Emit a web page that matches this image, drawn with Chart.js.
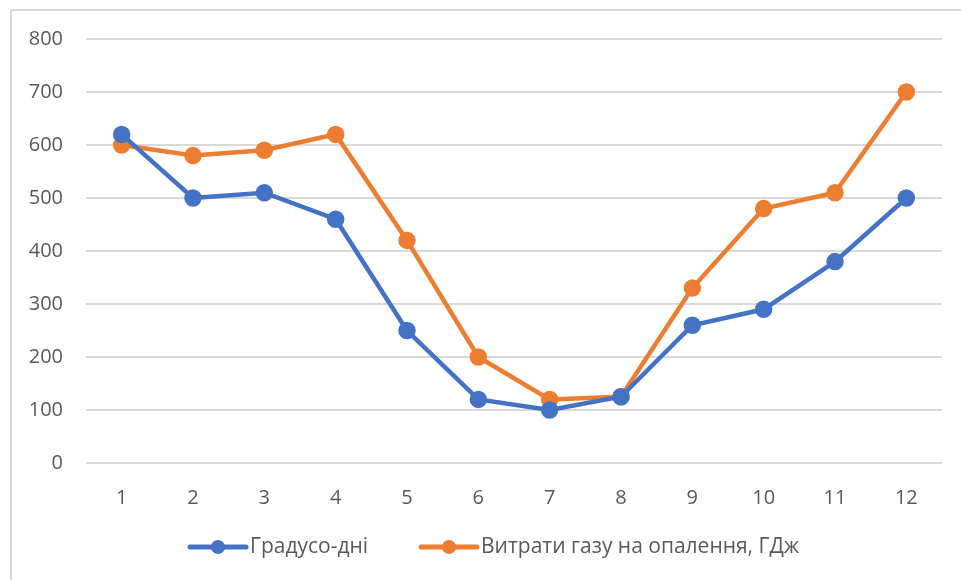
<!DOCTYPE html>
<html><head><meta charset="utf-8">
<script src="https://cdn.jsdelivr.net/npm/chart.js@4"></script>
<style>html,body{margin:0;padding:0;background:#fff;}#wrap{position:relative;width:961px;height:580px;}</style>
</head><body><div id="wrap"><canvas id="c" width="961" height="580"></canvas></div>
<script>
const categories = ['1','2','3','4','5','6','7','8','9','10','11','12'];
const degreeDays = [620,500,510,460,250,120,100,125,260,290,380,500];
const gasUse = [600,580,590,620,420,200,120,125,330,480,510,700];
const seriesNames = ['Градусо-дні','Витрати газу на опалення, ГДж'];
const yTicks = {min:0,max:800,step:100};
const BLUE='#4472C4', ORANGE='#ED7D31', TXT='#595959', GRID='#D9D9D9';
const FONT='"Open Sans", sans-serif';

const framePlugin = {
  id:'frame',
  beforeDraw(chart){
    const ctx=chart.ctx; ctx.save();
    ctx.strokeStyle=GRID; ctx.lineWidth=2;
    ctx.beginPath(); ctx.moveTo(11,580); ctx.lineTo(11,10); ctx.lineTo(961,10); ctx.stroke();
    ctx.restore();
  },
  afterDraw(chart){
    const ctx=chart.ctx; ctx.save();
    const y=547;
    const items=[{x:190,c:BLUE,t:seriesNames[0]},{x:421,c:ORANGE,t:seriesNames[1]}];
    ctx.font='21px '+FONT; ctx.textBaseline='middle';
    items.forEach(it=>{
      ctx.strokeStyle=it.c; ctx.lineWidth=5; ctx.lineCap='round';
      ctx.beginPath(); ctx.moveTo(it.x,y); ctx.lineTo(it.x+56,y); ctx.stroke();
      ctx.fillStyle=it.c; ctx.beginPath(); ctx.arc(it.x+28,y,7,0,Math.PI*2); ctx.fill();
      ctx.fillStyle=TXT; ctx.textAlign='left'; ctx.fillText(it.t,it.x+60,y);
    });
    ctx.restore();
  }
};

new Chart(document.getElementById('c'),{
  type:'line',
  data:{labels:categories,datasets:[
    {label:seriesNames[0],data:degreeDays,borderColor:BLUE,backgroundColor:BLUE,borderWidth:4.5,pointRadius:6.5,pointHoverRadius:6.5,tension:0},
    {label:seriesNames[1],data:gasUse,borderColor:ORANGE,backgroundColor:ORANGE,borderWidth:4.5,pointRadius:6.5,pointHoverRadius:6.5,tension:0}
  ]},
  options:{
    responsive:false,animation:false,
    layout:{padding:{left:0,right:19,top:39,bottom:57}},
    plugins:{legend:{display:false},tooltip:{enabled:false}},
    scales:{
      x:{offset:true,grid:{display:false},border:{display:false},
        ticks:{color:TXT,font:{family:FONT,size:20},padding:15},
        afterFit(s){s.height=60;}},
      y:{min:yTicks.min,max:yTicks.max,
        grid:{color:GRID,lineWidth:2,drawTicks:false},border:{display:false},
        ticks:{stepSize:yTicks.step,color:TXT,font:{family:FONT,size:20},padding:23},
        afterFit(s){s.width=86;}}
    }
  },
  plugins:[framePlugin]
});
</script></body></html>
